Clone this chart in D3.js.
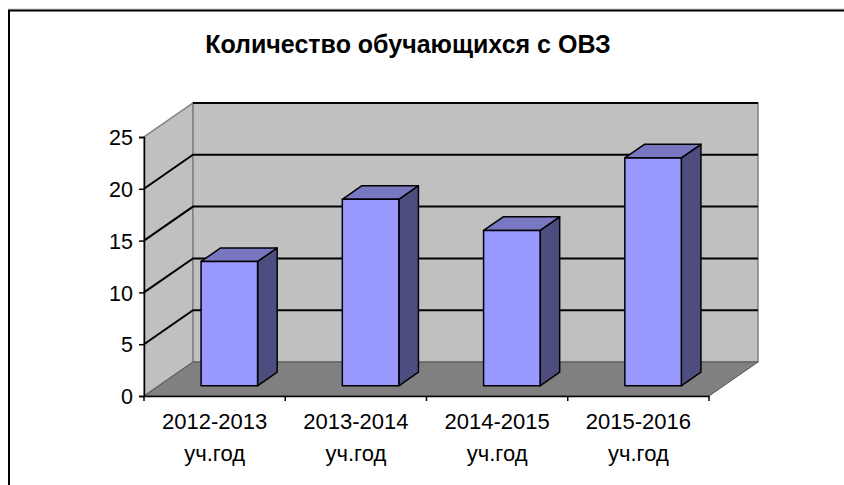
<!DOCTYPE html>
<html>
<head>
<meta charset="utf-8">
<script src="https://cdn.jsdelivr.net/npm/d3@7"></script>
<style>
  body { margin: 0; background: #fff; }
  text { font-family: "Liberation Sans", Arial, sans-serif; fill: #000; }
</style>
</head>
<body>
<svg id="chart" width="844" height="485"></svg>
<script>
var title = "Количество обучающихся с ОВЗ";
var categories = ["2012-2013", "2013-2014", "2014-2015", "2015-2016"];
var categorySuffix = ["уч.год", "уч.год", "уч.год", "уч.год"];
var values = [12, 18, 15, 22];
var yTicks = [0, 5, 10, 15, 20, 25];

var width = 844, height = 485;
var svg = d3.select("#chart");

// depth offset of the 3D box (front plane -> back wall)
var dx = 49, dy = -34;
function p(x, y, t) { return [x + t * dx, y + t * dy]; }
function poly(pts) { return pts.map(function(q) { return q.join(","); }).join(" "); }

var x = d3.scaleBand()
    .domain(categories)
    .range([144, 709]);

var y = d3.scaleLinear()
    .domain([0, 25])
    .range([396, 137]);

var x0 = x.range()[0], x1 = x.range()[1];
var yb = y(0), yt = y(25);

// chart area border (top + left visible)
svg.append("line").attr("x1", 8).attr("y1", 9).attr("x2", width).attr("y2", 9)
    .attr("stroke", "#c8c8c8").attr("stroke-width", 1);
svg.append("line").attr("x1", 8).attr("y1", 10.5).attr("x2", width).attr("y2", 10.5)
    .attr("stroke", "#000").attr("stroke-width", 2);
svg.append("line").attr("x1", 9).attr("y1", 10).attr("x2", 9).attr("y2", height)
    .attr("stroke", "#000").attr("stroke-width", 2);

svg.append("text")
    .attr("x", 408)
    .attr("y", 53)
    .attr("text-anchor", "middle")
    .attr("font-size", 25)
    .attr("font-weight", "bold")
    .text(title);

// walls
svg.append("polygon")
    .attr("points", poly([p(x0, yb, 0), p(x0, yt, 0), p(x0, yt, 1), p(x0, yb, 1)]))
    .attr("fill", "#c0c0c0").attr("stroke", "#808080").attr("stroke-width", 1.5);
svg.append("polygon")
    .attr("points", poly([p(x0, yb, 1), p(x0, yt, 1), p(x1, yt, 1), p(x1, yb, 1)]))
    .attr("fill", "#c0c0c0").attr("stroke", "#808080").attr("stroke-width", 1.5);
svg.append("polygon")
    .attr("points", poly([p(x0, yb, 0), p(x1, yb, 0), p(x1, yb, 1), p(x0, yb, 1)]))
    .attr("fill", "#808080").attr("stroke", "#555").attr("stroke-width", 1);

// gridlines on side and back wall
var grid = svg.append("g").attr("stroke", "#000").attr("stroke-width", 2).attr("fill", "none");
grid.selectAll("polyline")
    .data(yTicks.filter(function(d) { return d > 0 && d < 25; }))
    .enter().append("polyline")
    .attr("points", function(d) { return poly([p(x0, y(d), 0), p(x0, y(d), 1), p(x1, y(d), 1)]); });
grid.append("polyline")
    .attr("points", poly([p(x0, yt, 1), p(x1, yt, 1)]));

// bars
var bw = x.bandwidth() * 0.4, t0 = 0.3, t1 = 0.7;
var bars = svg.append("g").attr("stroke", "#000").attr("stroke-width", 1.5).attr("stroke-linejoin", "round")
  .selectAll("g")
  .data(values)
  .enter().append("g");

function bx(i) { return x(categories[i]) + (x.bandwidth() - bw) / 2; }

bars.append("polygon")
    .attr("fill", "#4d4d80")
    .attr("points", function(d, i) {
      var a = bx(i) + bw;
      return poly([p(a, yb, t0), p(a, y(d), t0), p(a, y(d), t1), p(a, yb, t1)]);
    });
bars.append("polygon")
    .attr("fill", "#7777c2")
    .attr("points", function(d, i) {
      var a = bx(i);
      return poly([p(a, y(d), t0), p(a + bw, y(d), t0), p(a + bw, y(d), t1), p(a, y(d), t1)]);
    });
bars.append("polygon")
    .attr("fill", "#9999ff")
    .attr("points", function(d, i) {
      var a = bx(i);
      return poly([p(a, yb, t0), p(a, y(d), t0), p(a + bw, y(d), t0), p(a + bw, yb, t0)]);
    });

// value axis
var yAxis = svg.append("g")
    .attr("transform", "translate(" + x0 + ",0)")
    .call(d3.axisLeft(y).tickValues(yTicks).tickSize(5).tickPadding(6));
yAxis.select(".domain").attr("stroke", "#000").attr("stroke-width", 1.5);
yAxis.selectAll(".tick line").attr("stroke", "#000").attr("stroke-width", 1.5);
yAxis.selectAll(".tick text").attr("font-size", 21.5).attr("dy", "0.36em");

// category axis
var xAxis = svg.append("g")
    .attr("transform", "translate(0," + yb + ")")
    .call(d3.axisBottom(x).tickSize(0).tickFormat(""));
xAxis.select(".domain").attr("stroke", "#000").attr("stroke-width", 1.5);
xAxis.selectAll(".tick").remove();

var edges = x.domain().map(function(d) { return x(d); }).concat([x1]);
xAxis.selectAll(".edge")
    .data(edges)
    .enter().append("line")
    .attr("class", "edge")
    .attr("x1", function(d) { return d; }).attr("x2", function(d) { return d; })
    .attr("y1", 0).attr("y2", 5)
    .attr("stroke", "#000").attr("stroke-width", 1.5);

var labels = svg.append("g").attr("text-anchor", "middle").attr("font-size", 22)
  .selectAll("text")
  .data(categories)
  .enter().append("text")
    .attr("x", function(d) { return x(d) + x.bandwidth() / 2; })
    .attr("y", 429);
labels.append("tspan").text(function(d) { return d; });
labels.append("tspan")
    .attr("x", function(d) { return x(d) + x.bandwidth() / 2; })
    .attr("dy", 32)
    .text(function(d, i) { return categorySuffix[i]; });
</script>
</body>
</html>
